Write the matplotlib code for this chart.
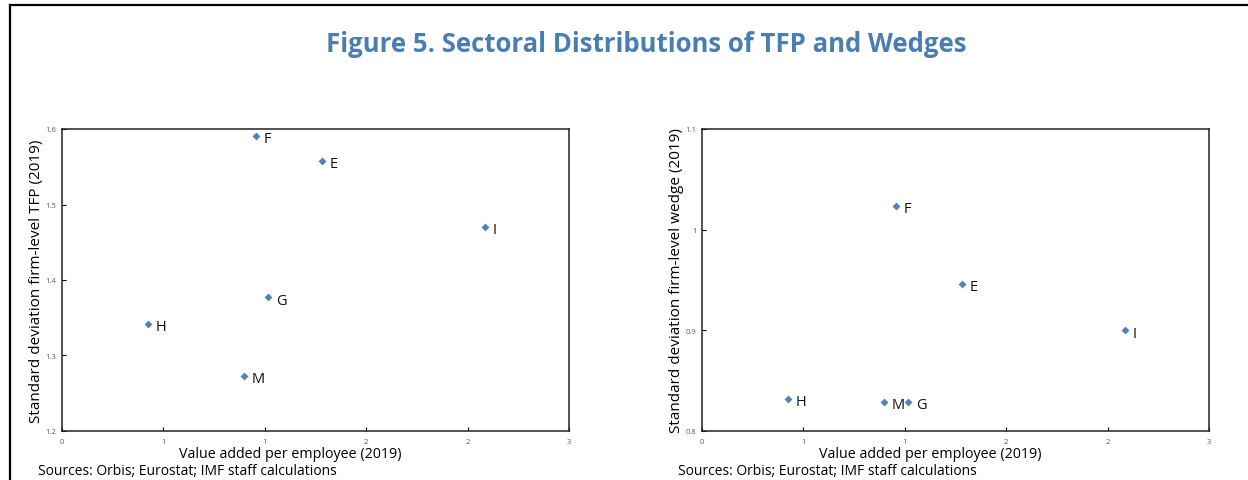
import matplotlib
matplotlib.use("Agg")
import matplotlib.pyplot as plt
from matplotlib.lines import Line2D
from matplotlib.ticker import FormatStrFormatter

plt.rcParams['font.family'] = ['Open Sans', 'DejaVu Sans']

# sector codes and values
sectors = ["F", "E", "I", "G", "H", "M"]
va_per_employee = [1.147, 1.537, 2.503, 1.220, 0.511, 1.076]
sd_tfp = [1.591, 1.558, 1.470, 1.377, 1.342, 1.273]
sd_wedge = [1.0235, 0.946, 0.900, 0.829, 0.832, 0.829]

x_ticks = [0, 0.6, 1.2, 1.8, 2.4, 3.0]
tfp_ticks = [1.2, 1.3, 1.4, 1.5, 1.6]
wedge_ticks = [0.8, 0.9, 1.0, 1.1]

point_color = "#4f81bd"
title_color = "#4a7eb0"

W, H = 1248, 481
fig = plt.figure(figsize=(W / 100, H / 100), dpi=100)


def panel(left_px, ys, yticks, ylabel, yfmt):
    ax = fig.add_axes([left_px / W, 1 - 432 / H, 507 / W, 302 / H])
    ax.scatter(va_per_employee, ys, marker="D", s=16, color=point_color,
               zorder=3, linewidths=0)
    for name, x, y in zip(sectors, va_per_employee, ys):
        ax.annotate(name, (x, y), xytext=(5.5, -4.5), textcoords="offset points",
                    fontsize=10.5, color="#111111")
    ax.set_xlim(0, 3)
    ax.set_ylim(yticks[0], yticks[-1])
    ax.set_xticks(x_ticks)
    ax.set_yticks(yticks)
    ax.xaxis.set_major_formatter(FormatStrFormatter("%.0f"))
    ax.yaxis.set_major_formatter(FormatStrFormatter(yfmt))
    ax.tick_params(direction="in", length=3, width=0.8, labelsize=5.5,
                   labelcolor="#595959", pad=4)
    ax.tick_params(axis="x", pad=5)
    for sp in ax.spines.values():
        sp.set_color("#222222")
        sp.set_linewidth(1.1)
    ax.set_xlabel("Value added per employee (2019)", fontsize=10.3)
    ax.xaxis.set_label_coords(0.45, -0.05)
    ax.set_ylabel(ylabel, fontsize=11)
    ax.yaxis.set_label_coords(-18 / 507, 0.5)
    fig.text((left_px - 24) / W, 1 - 472 / H,
             "Sources: Orbis; Eurostat; IMF staff calculations", fontsize=10,
             va="center")
    return ax


panel(62, sd_tfp, tfp_ticks, "Standard deviation firm-level TFP (2019)", "%.1f")
panel(702, sd_wedge, wedge_ticks, "Standard deviation firm-level wedge (2019)", "%g")

fig.text(646 / W, 1 - 44 / H, "Figure 5. Sectoral Distributions of TFP and Wedges",
         ha="center", va="center", fontsize=18.5, fontweight="bold", color=title_color)

# outer frame: left and top edges
fig.add_artist(Line2D([10 / W, 10 / W], [0, 1 - 6 / H], color="black", lw=1.6,
                      transform=fig.transFigure))
fig.add_artist(Line2D([10 / W, 1], [1 - 6 / H, 1 - 6 / H], color="black", lw=1.6,
                      transform=fig.transFigure))

fig.savefig("out.png", dpi=100)
